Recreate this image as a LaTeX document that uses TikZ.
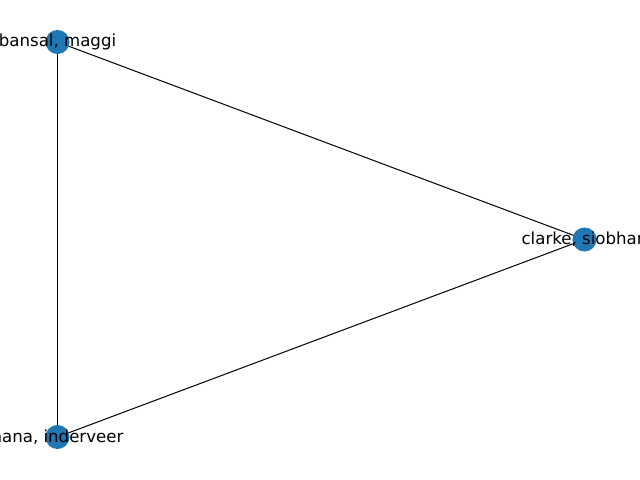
\documentclass[tikz,border=0pt]{standalone}
\usepackage{fontspec}
\setmainfont{DejaVu Sans}
\definecolor{nodeblue}{HTML}{1F77B4}

\begin{document}
\begin{tikzpicture}[x=0.01in,y=-0.01in,
    vertex/.style={circle,fill=nodeblue,minimum size=17.3bp,inner sep=0pt},
    edge/.style={line width=0.72bp,black},
    person/.style={font=\fontsize{12}{14}\selectfont,inner sep=0pt,text=black}]
    \useasboundingbox[clip] (0,0) rectangle (640,480);

    \coordinate (bansal) at (57.5,42);
    \coordinate (clarke) at (584.5,239.5);
    \coordinate (inderveer) at (57.5,437);

    \draw[edge] (bansal) -- (clarke);
    \draw[edge] (bansal) -- (inderveer);
    \draw[edge] (clarke) -- (inderveer);

    \node[vertex] (bansaldot) at (bansal) {};
    \node[vertex] (clarkedot) at (clarke) {};
    \node[vertex] (inderveerdot) at (inderveer) {};

    \node[person] (bansallabel) at (bansal) {bansal, maggi};
    \node[person] (clarkelabel) at (clarke) {clarke, siobhan};
    \node[person] (inderveerlabel) at (inderveer) {hana, inderveer};
  \end{tikzpicture}
\end{document}
